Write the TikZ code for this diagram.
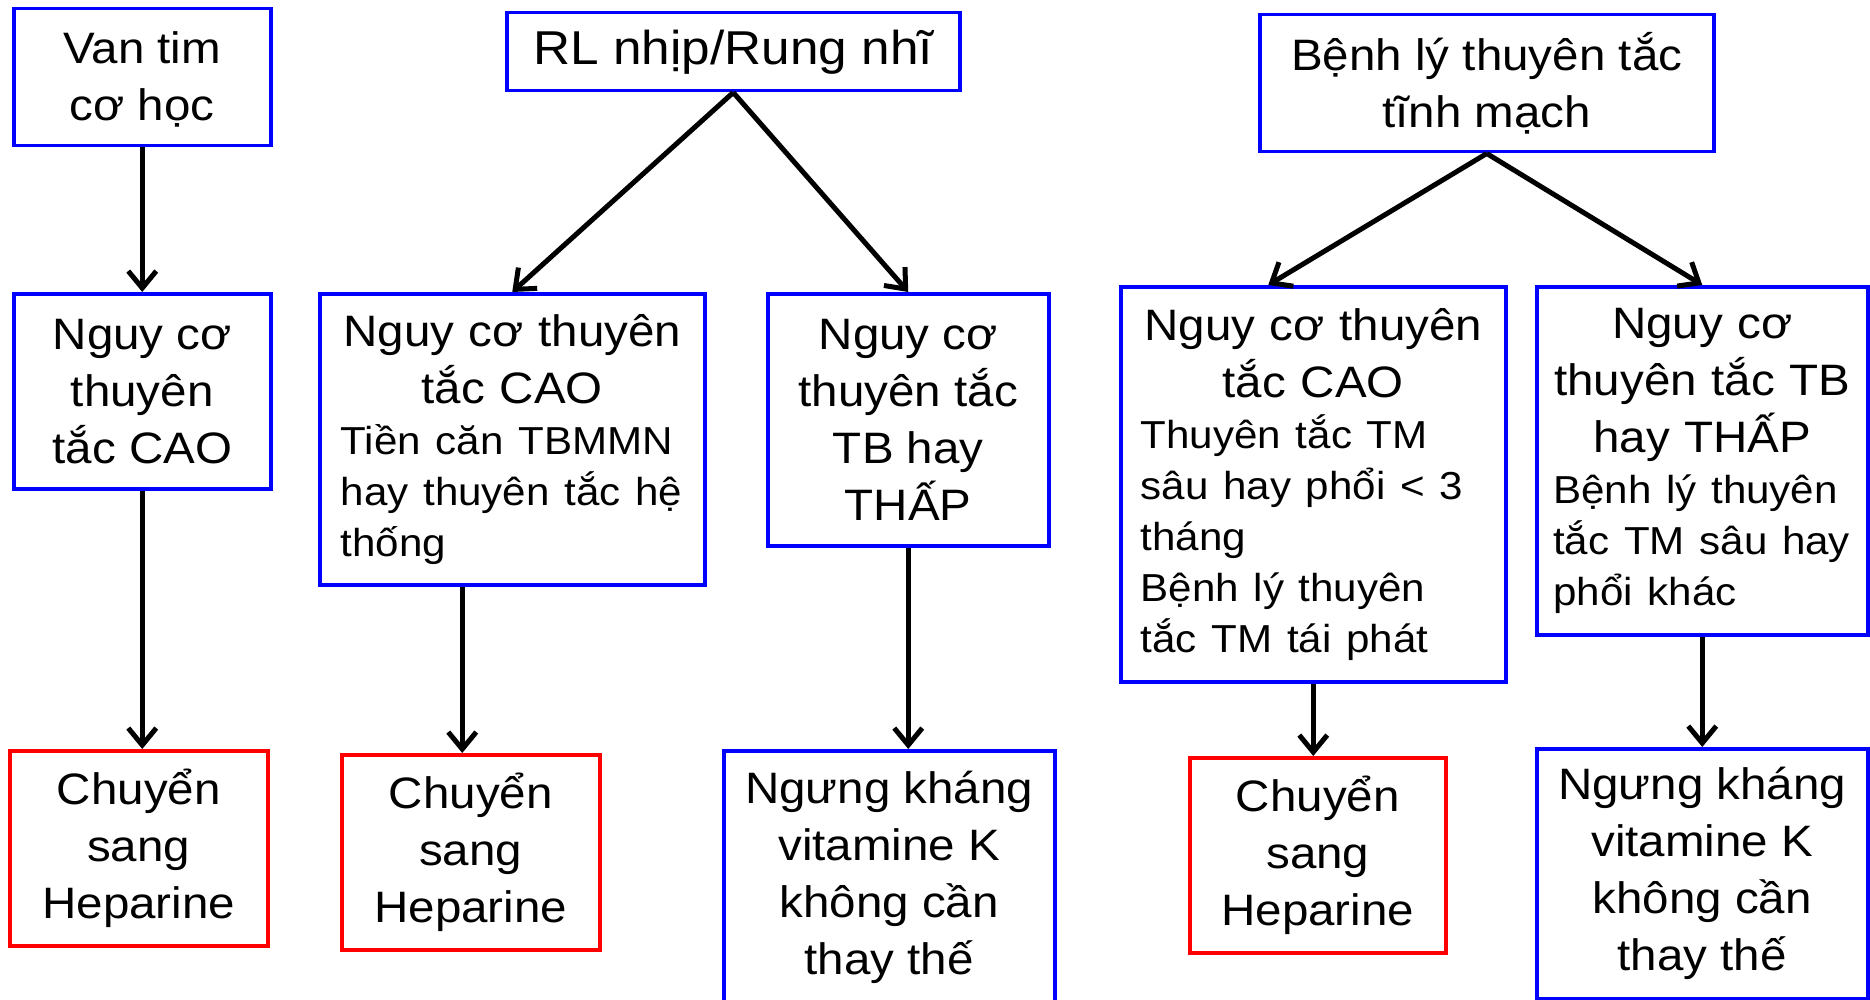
\documentclass[tikz,border=0pt]{standalone}
\usepackage{fontspec}
\setmainfont[FakeStretch=1.08]{Liberation Sans}
\usetikzlibrary{arrows.meta}

\newcommand{\bigtxt}{\fontsize{44}{57}\selectfont}
\newcommand{\smalltxt}{\fontsize{39}{51}\selectfont}

\begin{document}
\begin{tikzpicture}[x=1pt,y=-1pt,
    box/.style={line width=3.5pt,fill=white,inner sep=0pt,anchor=north west,font=\bigtxt},
    bluebox/.style={box,draw=blue,align=center},
    redbox/.style={box,draw=red,align=center},
    mixbox/.style={box,draw=blue},
    arr/.style={line width=5pt,-{Straight Barb[length=17pt,width=28pt]}}]
    \fill[white] (0,0) rectangle (1870,1000);
    \useasboundingbox (0,0) rectangle (1870,1000);
    \clip (0,0) rectangle (1870,1000);

    \node[bluebox,minimum width=257pt,minimum height=137pt] (vtim) at (12,7) {\rule{0pt}{36pt}Van tim\\ cơ học};
    \node[bluebox,minimum width=453pt,minimum height=78pt,font=\fontsize{47.5}{57}\selectfont] (rl) at (505,11) {RL nhịp/Rung nhĩ};
    \node[bluebox,minimum width=454pt,minimum height=137pt] (bl) at (1258,13) {Bệnh lý thuyên tắc\\ tĩnh mạch};

    \node[bluebox,minimum width=257pt,minimum height=195pt] (m1) at (12,292) {Nguy cơ\\ thuyên\\ tắc CAO};
    \node[mixbox,minimum width=385pt,minimum height=291pt,text width=343pt] (m2) at (318,292)
        {{\centering Nguy cơ thuyên\\ tắc CAO\par}{\smalltxt\raggedright Tiền căn TBMMN\\ hay thuyên tắc hệ\\ thống\par}};
    \node[bluebox,minimum width=281pt,minimum height=252pt] (m3) at (766,292) {Nguy cơ\\ thuyên tắc\\ TB hay\\ THẤP};
    \node[mixbox,minimum width=385pt,minimum height=395pt,text width=345pt] (m4) at (1119,285)
        {{\centering Nguy cơ thuyên\\ tắc CAO\par}{\smalltxt\raggedright Thuyên tắc TM\\ sâu hay phổi < 3\\ tháng\\ Bệnh lý thuyên\\ tắc TM tái phát\par}};
    \node[mixbox,minimum width=331pt,minimum height=348pt,text width=298pt] (m5) at (1535,285)
        {{\centering Nguy cơ\\ thuyên tắc TB\\ hay THẤP\par}{\smalltxt\raggedright Bệnh lý thuyên\\ tắc TM sâu hay\\ phổi khác\par}};

    \node[redbox,minimum width=258pt,minimum height=195pt] (b1) at (8,749) {Chuyển\\ sang\\ Heparine};
    \node[redbox,minimum width=258pt,minimum height=195pt] (b2) at (340,753) {Chuyển\\ sang\\ Heparine};
    \node[bluebox,minimum width=331pt,minimum height=254pt] (b3) at (722,749) {Ngưng kháng\\ vitamine K\\ không cần\\ thay thế};
    \node[redbox,minimum width=256pt,minimum height=195pt] (b4) at (1188,756) {Chuyển\\ sang\\ Heparine};
    \node[bluebox,minimum width=331pt,minimum height=250pt] (b5) at (1535,747) {Ngưng kháng\\ vitamine K\\ không cần\\ thay thế};

    \coordinate (m4in) at ([xshift=-45pt]m4.north);
    \coordinate (m2out) at ([xshift=-50pt]m2.south);
    \draw[arr] (vtim.south) -- (m1.north);
    \draw[arr] (rl.south) -- (m2.north);
    \draw[arr] (rl.south) -- (m3.north);
    \draw[arr] (bl.south) -- (m4in);
    \draw[arr] (bl.south) -- (m5.north);
    \draw[arr] (m1.south) -- (m1.south |- b1.north);
    \draw[arr] (m2out) -- (m2out |- b2.north);
    \foreach \a/\b in {m3/b3,m4/b4,m5/b5}
        \draw[arr] (\a.south) -- (\a.south |- \b.north);
\end{tikzpicture}
\end{document}
